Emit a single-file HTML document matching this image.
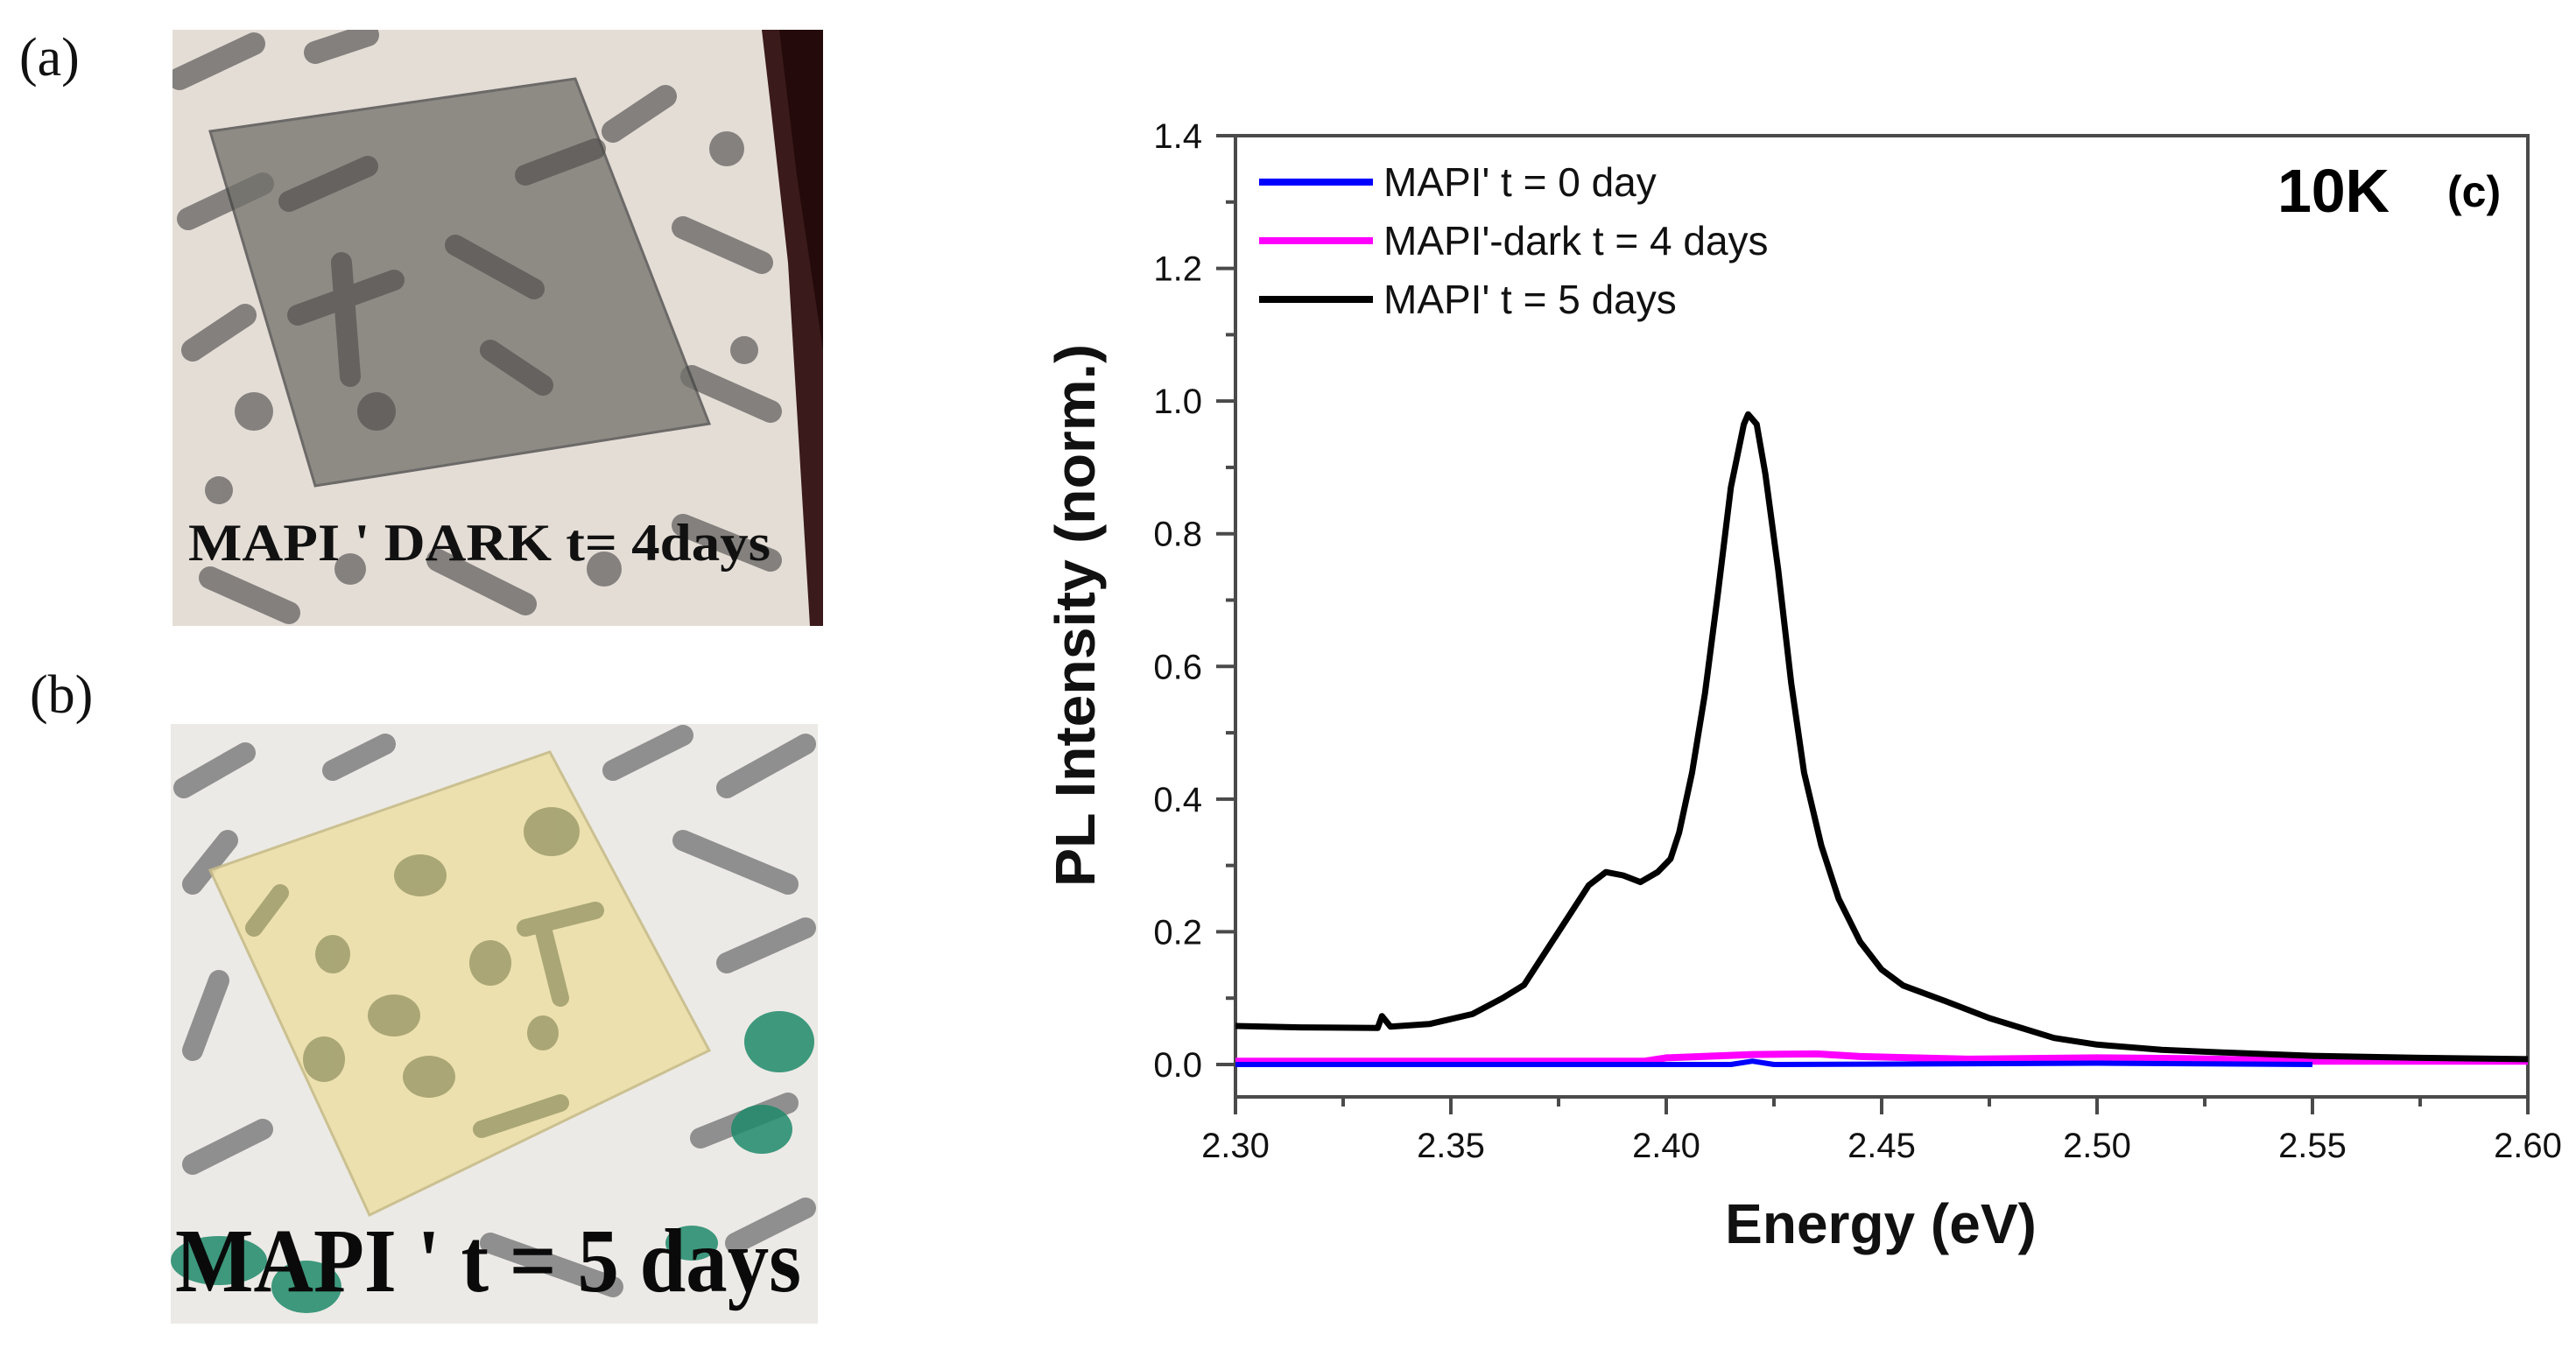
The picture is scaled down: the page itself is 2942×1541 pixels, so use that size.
<!DOCTYPE html>
<html><head><meta charset="utf-8"><style>
html,body{margin:0;padding:0;background:#fff;}
svg{display:block;}
</style></head><body>
<svg id="fig" width="2942" height="1541" viewBox="0 0 2942 1541" xmlns="http://www.w3.org/2000/svg">
<defs>
<clipPath id="clipA"><rect x="197" y="34" width="743" height="681"/></clipPath>
<clipPath id="clipB"><rect x="195" y="827" width="739" height="685"/></clipPath>
<clipPath id="plotClip"><rect x="1411" y="155" width="1476" height="1098"/></clipPath>
</defs>

<text x="22" y="86" font-family="Liberation Serif, serif" font-size="62" fill="#111">(a)</text>
<text x="34" y="814" font-family="Liberation Serif, serif" font-size="62" fill="#111">(b)</text>

<g clip-path="url(#clipA)">
  <rect x="197" y="34" width="743" height="681" fill="#e4ddd6"/>
  <polygon points="870,34 940,34 940,715 925,715 900,300 880,120" fill="#3a1a1a"/>
  <polygon points="890,34 940,34 940,400 910,200" fill="#240a0a"/>
  <g stroke="#6c6a68" stroke-width="26" stroke-linecap="round" opacity="0.8">
    <line x1="205" y1="90" x2="290" y2="50"/><line x1="360" y1="60" x2="420" y2="40"/>
    <line x1="215" y1="250" x2="300" y2="210"/><line x1="220" y1="400" x2="280" y2="360"/>
    <line x1="700" y1="150" x2="760" y2="110"/><line x1="780" y1="260" x2="870" y2="300"/>
    <line x1="790" y1="430" x2="880" y2="470"/><line x1="780" y1="600" x2="880" y2="640"/>
    <line x1="240" y1="660" x2="330" y2="700"/><line x1="500" y1="640" x2="600" y2="690"/>
  </g>
  <g fill="#6c6a68" opacity="0.8">
    <circle cx="830" cy="170" r="20"/><circle cx="850" cy="400" r="16"/><circle cx="290" cy="470" r="22"/>
    <circle cx="690" cy="650" r="20"/><circle cx="400" cy="650" r="18"/><circle cx="250" cy="560" r="16"/>
  </g>
  <polygon points="240,150 657,90 810,484 360,555" fill="#72706b" opacity="0.75" stroke="#444" stroke-width="3"/>
  <g stroke="#4a4846" stroke-width="24" stroke-linecap="round" opacity="0.6">
    <line x1="330" y1="230" x2="420" y2="190"/><line x1="340" y1="360" x2="450" y2="320"/>
    <line x1="390" y1="300" x2="400" y2="430"/><line x1="520" y1="280" x2="610" y2="330"/>
    <line x1="560" y1="400" x2="620" y2="440"/><line x1="600" y1="200" x2="680" y2="170"/>
  </g>
  <circle cx="430" cy="470" r="22" fill="#4a4846" opacity="0.6"/>
  <text x="215" y="640" font-family="Liberation Serif, serif" font-weight="bold" font-size="60" fill="#111" textLength="665" lengthAdjust="spacingAndGlyphs">MAPI ' DARK t= 4days</text>
</g>

<g clip-path="url(#clipB)">
  <rect x="195" y="827" width="739" height="685" fill="#eceae6"/>
  <g stroke="#808080" stroke-width="24" stroke-linecap="round" opacity="0.85">
    <line x1="210" y1="900" x2="280" y2="860"/><line x1="380" y1="880" x2="440" y2="850"/>
    <line x1="700" y1="880" x2="780" y2="840"/><line x1="830" y1="900" x2="920" y2="850"/>
    <line x1="220" y1="1010" x2="260" y2="960"/><line x1="780" y1="960" x2="900" y2="1010"/>
    <line x1="830" y1="1100" x2="920" y2="1060"/><line x1="220" y1="1200" x2="250" y2="1120"/>
    <line x1="220" y1="1330" x2="300" y2="1290"/><line x1="800" y1="1300" x2="900" y2="1260"/>
    <line x1="560" y1="1420" x2="700" y2="1470"/><line x1="840" y1="1420" x2="920" y2="1380"/>
  </g>
  <g fill="#1f8a6a" opacity="0.85">
    <ellipse cx="250" cy="1440" rx="55" ry="28"/><ellipse cx="350" cy="1470" rx="40" ry="30"/>
    <ellipse cx="890" cy="1190" rx="40" ry="35"/><ellipse cx="870" cy="1290" rx="35" ry="28"/>
    <ellipse cx="790" cy="1420" rx="30" ry="20"/>
  </g>
  <polygon points="240,994 628,859 810,1200 422,1388" fill="#ece0a8" opacity="0.9" stroke="#c8bc88" stroke-width="3"/>
  <g fill="#9a9868" opacity="0.8">
    <ellipse cx="480" cy="1000" rx="30" ry="24"/><ellipse cx="630" cy="950" rx="32" ry="28"/>
    <ellipse cx="380" cy="1090" rx="20" ry="22"/><ellipse cx="450" cy="1160" rx="30" ry="24"/>
    <ellipse cx="560" cy="1100" rx="24" ry="26"/><ellipse cx="370" cy="1210" rx="24" ry="26"/>
    <ellipse cx="490" cy="1230" rx="30" ry="24"/><ellipse cx="620" cy="1180" rx="18" ry="20"/>
  </g>
  <g stroke="#9a9868" stroke-width="20" stroke-linecap="round" opacity="0.8">
    <line x1="600" y1="1060" x2="680" y2="1040"/><line x1="620" y1="1060" x2="640" y2="1140"/>
    <line x1="550" y1="1290" x2="640" y2="1260"/><line x1="290" y1="1060" x2="320" y2="1020"/>
  </g>
  <text x="200" y="1475" font-family="Liberation Serif, serif" font-weight="bold" font-size="104" fill="#0a0a0a" textLength="715" lengthAdjust="spacingAndGlyphs">MAPI ' t = 5 days</text>
</g>

<g id="chart">
  <g id="axes"></g>
  <g id="series" clip-path="url(#plotClip)"></g>
  <g id="legend"></g>
</g>
</svg>
<script>
const xTicks = [2.30, 2.35, 2.40, 2.45, 2.50, 2.55, 2.60];
const xTickLabels = ["2.30","2.35","2.40","2.45","2.50","2.55","2.60"];
const yTicks = [0.0, 0.2, 0.4, 0.6, 0.8, 1.0, 1.2, 1.4];
const yTickLabels = ["0.0","0.2","0.4","0.6","0.8","1.0","1.2","1.4"];
const seriesNames = ["MAPI' t = 0 day", "MAPI'-dark t = 4 days", "MAPI' t = 5 days"];
const blackE = [2.300,2.315,2.333,2.334,2.336,2.345,2.355,2.362,2.367,2.372,2.378,2.382,2.386,2.390,2.394,2.398,2.401,2.403,2.406,2.409,2.412,2.415,2.418,2.419,2.421,2.423,2.426,2.429,2.432,2.436,2.440,2.445,2.450,2.455,2.465,2.475,2.490,2.500,2.515,2.530,2.550,2.575,2.600];
const blackI = [0.058,0.056,0.055,0.073,0.057,0.061,0.076,0.100,0.120,0.170,0.230,0.270,0.290,0.285,0.275,0.290,0.310,0.350,0.440,0.560,0.710,0.870,0.965,0.980,0.965,0.890,0.745,0.575,0.440,0.330,0.250,0.185,0.143,0.119,0.095,0.070,0.040,0.030,0.022,0.018,0.013,0.010,0.008];
const magentaE = [2.300,2.395,2.400,2.420,2.435,2.445,2.470,2.500,2.520,2.550,2.600];
const magentaI = [0.005,0.005,0.010,0.015,0.016,0.012,0.008,0.010,0.009,0.005,0.005];
const blueE = [2.300,2.415,2.420,2.425,2.500,2.550];
const blueI = [0.000,0.000,0.005,0.000,0.002,0.000];

const NS = "http://www.w3.org/2000/svg";
const L = 1411, R = 2887, T = 155, B = 1253;
const Y0 = 1216, YT = 155;
function xs(e){ return L + (e - 2.30) / 0.30 * (R - L); }
function ys(v){ return Y0 - v / 1.4 * (Y0 - YT); }
function mk(tag, attrs, parent){ const el = document.createElementNS(NS, tag); for (const k in attrs) el.setAttribute(k, attrs[k]); parent.appendChild(el); return el; }

const axes = document.getElementById('axes');
const AX = "#4a4a4a";
let fr = mk('rect', {x:L, y:T, width:R-L, height:B-T, fill:'none', stroke:AX, 'stroke-width':4}, axes);


yTicks.forEach((v, i) => {
  const y = ys(v);
  const t = mk('line', {x1:L-22, y1:y, x2:L, y2:y, stroke:AX, 'stroke-width':4}, axes);
  
  
  const lb = mk('text', {x:L-38, y:y+14, 'text-anchor':'end', 'font-family':'Liberation Sans, sans-serif', 'font-size':40, fill:'#111'}, axes);
  lb.textContent = yTickLabels[i];
  
  
  if (i < yTicks.length - 1) {
    const ym = ys(v + 0.1);
    const m = mk('line', {x1:L-11, y1:ym, x2:L, y2:ym, stroke:AX, 'stroke-width':4}, axes);
    
    
  }
});
xTicks.forEach((e, i) => {
  const x = xs(e);
  const t = mk('line', {x1:x, y1:B, x2:x, y2:B+20, stroke:AX, 'stroke-width':4}, axes);
  
  
  const lb = mk('text', {x:x, y:1322, 'text-anchor':'middle', 'font-family':'Liberation Sans, sans-serif', 'font-size':40, fill:'#111'}, axes);
  lb.textContent = xTickLabels[i];
  
  
  if (i < xTicks.length - 1) {
    const xm = xs(e + 0.025);
    const m = mk('line', {x1:xm, y1:B, x2:xm, y2:B+11, stroke:AX, 'stroke-width':4}, axes);
    
    
  }
});
const xt = mk('text', {x:2148, y:1420, 'text-anchor':'middle', 'font-family':'Liberation Sans, sans-serif', 'font-weight':'bold', 'font-size':64, fill:'#111'}, axes);
xt.textContent = 'Energy (eV)';


const yt = mk('text', {x:0, y:0, 'text-anchor':'middle', 'font-family':'Liberation Sans, sans-serif', 'font-weight':'bold', 'font-size':64, fill:'#111', textLength:620, lengthAdjust:'spacingAndGlyphs', transform:'translate(1250,703) rotate(-90)'}, axes);
yt.textContent = 'PL Intensity (norm.)';


const k10 = mk('text', {x:2601, y:242, 'font-family':'Liberation Sans, sans-serif', 'font-weight':'bold', 'font-size':70, fill:'#000', textLength:128}, axes);
k10.textContent = '10K';


const pc = mk('text', {x:2795, y:236, 'font-family':'Liberation Sans, sans-serif', 'font-weight':'bold', 'font-size':50, fill:'#000'}, axes);
pc.textContent = '(c)';



const ser = document.getElementById('series');
function pathOf(E, I){ return E.map((e, i) => (i ? 'L' : 'M') + xs(e).toFixed(1) + ',' + ys(I[i]).toFixed(1)).join(' '); }
const pm = mk('path', {d:pathOf(magentaE, magentaI), fill:'none', stroke:'#ff00ff', 'stroke-width':8, 'stroke-linejoin':'round'}, ser);


const pb = mk('path', {d:pathOf(blueE, blueI), fill:'none', stroke:'#0000ff', 'stroke-width':6, 'stroke-linejoin':'round'}, ser);


const pk = mk('path', {d:pathOf(blackE, blackI), fill:'none', stroke:'#000', 'stroke-width':7, 'stroke-linejoin':'round'}, ser);



const leg = document.getElementById('legend');
const legColors = ['#0000ff', '#ff00ff', '#000000'];
seriesNames.forEach((n, i) => {
  const y = 208 + i * 67;
  const ln = mk('line', {x1:1438, y1:y, x2:1568, y2:y, stroke:legColors[i], 'stroke-width':8}, leg);
  
  
  const tx = mk('text', {x:1580, y:y + 16, 'font-family':'Liberation Sans, sans-serif', 'font-size':46, fill:'#111'}, leg);
  tx.textContent = n;
  
  
});
</script>
</body></html>
